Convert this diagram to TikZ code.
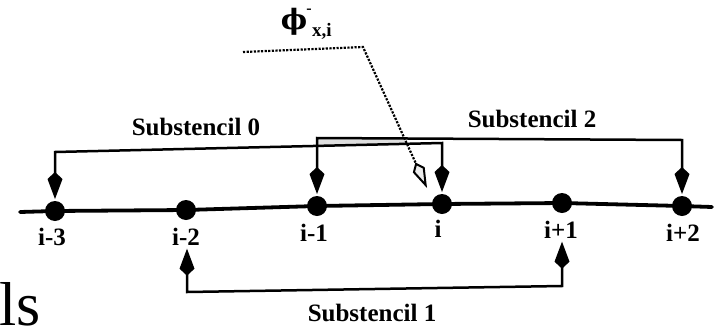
\documentclass[tikz,border=0pt]{standalone}
\usepackage{fontspec}
\setmainfont{Liberation Serif}
\newfontfamily\phifont{DejaVu Serif}
\usetikzlibrary{arrows.meta}
\tikzset{
  dot/.style={circle, fill=black, inner sep=0pt, minimum size=20pt, outer sep=2pt},
  lbl/.style={font=\fontsize{25}{25}\selectfont\bfseries, inner sep=0pt, outer sep=3pt},
  sublbl/.style={font=\fontsize{25}{25}\selectfont\bfseries, inner sep=0pt},
  kitetip/.tip={Kite[length=27pt,width=15pt,inset=7pt]},
  conn/.style={line width=2.5pt, line join=miter, {kitetip}-{kitetip}},
  axisline/.style={line width=3.8pt, line join=round, line cap=round},
  pointer/.style={line width=2.2pt, dash pattern=on 2.2pt off 1.4pt,
    -{Kite[open,length=28pt,width=13pt,inset=8pt,fill=gray!15,line width=2pt]}},
}
\begin{document}
\begin{tikzpicture}[x=1pt,y=-1pt]
\useasboundingbox (0,0) rectangle (723,327);

% grid points
\node[dot] (d3m) at (55,211) {};
\node[dot] (d2m) at (186,210) {};
\node[dot] (d1m) at (317,206) {};
\node[dot] (d0)  at (442,204) {};
\node[dot] (d1p) at (562,203) {};
\node[dot] (d2p) at (682,206) {};
\coordinate (L) at (20,212);
\coordinate (R) at (712,207);
\draw[axisline] (L) -- (d3m.center) -- (d2m.center) -- (d1m.center) -- (d0.center) -- (d1p.center) -- (d2p.center) -- (R);

% labels
\node[lbl] (l3m) at (52,237) {i-3};
\node[lbl] (l2m) at (186,237) {i-2};
\node[lbl] (l1m) at (314,233) {i-1};
\node[lbl] (l0)  at (438,229) {i};
\node[lbl] (l1p) at (561,230) {i+1};
\node[lbl] (l2p) at (683,233) {i+2};

% substencil corners
\coordinate (s0a) at (55,152);
\coordinate (s0b) at (442,143);
\coordinate (s2a) at (317,138);
\coordinate (s2b) at (682,140);
\coordinate (s1a) at (187,292);
\coordinate (s1b) at (562,286);

% grey band between the two upper brackets
\fill[gray!25] (317,138) -- (405,138.5) -- (405,145) -- (317,146.5) -- cycle;

\draw[conn] (s0a |- d3m.north) -- (s0a) -- (s0b) -- (s0b |- d0.north);
\draw[conn] (s2a |- d1m.north) -- (s2a) -- (s2b) -- (s2b |- d2p.north);
\draw[conn] (s1a |- l2m.south) -- (s1a) -- (s1b) -- (s1b |- l1p.south);

\node[sublbl] (t0) at (196,127) {Substencil 0};
\node[sublbl] (t2) at (532,119) {Substencil 2};
\node[sublbl] (t1) at (372,313) {Substencil 1};

% phi label and pointer
\node[inner sep=0pt, font=\fontsize{28}{28}\selectfont\phifont\bfseries] (phi) at (294,22) {ϕ};
\node[inner sep=0pt, font=\fontsize{16}{16}\selectfont\bfseries] (bar) at (309,11) {-};
\node[inner sep=0pt, font=\fontsize{19}{19}\selectfont\bfseries] (sub) at (322,31) {x,i};
\coordinate (pA) at (243,52);
\coordinate (pB) at (363,47);
\coordinate (pT) at (427,188);
\draw[pointer] (pA) -- (pB) -- (pT);

% cut-off heading fragment
\node[anchor=base west, inner sep=0pt, font=\fontsize{62}{62}\selectfont] (frag) at (-1,325) {ls};
\end{tikzpicture}
\end{document}
